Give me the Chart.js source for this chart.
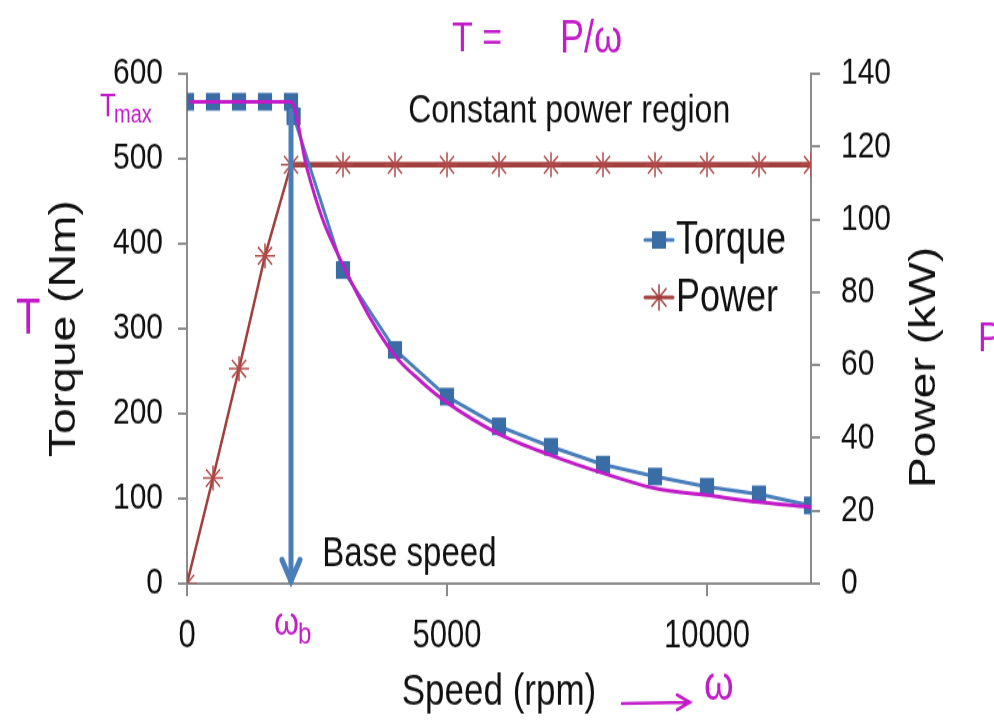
<!DOCTYPE html>
<html>
<head>
<meta charset="utf-8">
<script src="https://cdn.jsdelivr.net/npm/chart.js@4.4.0/dist/chart.umd.min.js"></script>
<style>
  html { margin: 0; padding: 0; background: #fff; overflow: hidden; }
  body { margin: 0; padding: 0; width: 994px; height: 726px; background: #fff; }
  /* the reference picture is a slightly stretched screenshot, so draw flat and stretch */
  #wrap { width: 994px; height: 581px; transform: scaleY(1.2496); transform-origin: 0 0; }
</style>
</head>
<body>
<div id="wrap"><canvas id="chart" width="994" height="581" style="width:994px;height:581px"></canvas></div>
<script>
// x axis ticks (rpm)
const speedTicks = [0, 5000, 10000];

// Torque series (Nm)
const torqueSpeed = [0, 500, 1000, 1500, 2000, 2050, 3000, 4000, 5000, 6000, 7000, 8000, 9000, 10000, 11000, 12000];
const torqueValues = [567, 567, 567, 567, 567, 550, 369, 275, 220, 185, 161, 140, 126, 114, 105, 92];

// Power series (kW)
const powerSpeed = [0, 500, 1000, 1500, 2000, 3000, 4000, 5000, 6000, 7000, 8000, 9000, 10000, 11000, 12000];
const powerValues = [0, 29, 59, 90, 115, 115, 115, 115, 115, 115, 115, 115, 115, 115, 115];

// hand drawn T = P/w curve over the torque line
const penSpeed = [60, 2000, 2300, 2600, 3000, 3500, 4000, 4500, 5000, 6000, 7000, 8000, 9000, 10000, 11000, 12000];
const penValues = [567, 567, 490, 430, 375, 315, 268, 238, 213, 176, 151, 130, 112, 104, 96, 90];

const baseSpeed = 2000;
const arrowTop = 556;

const BLUE = '#4a7ebb';
const BLUE_DARK = '#3a6ca6';
const RED = '#a13f3d';
const PEN = '#c21bc8';
const AXIS = '#8c8c8c';
const FONT = "'Liberation Sans', Arial, sans-serif";

function pts(xs, ys) {
    return xs.map((v, i) => ({ x: v, y: ys[i] }));
}

function drawStar(ctx, x, y, r) {
    ctx.beginPath();
    for (let a = 0; a < 4; a++) {
        const t = a * Math.PI / 4;
        ctx.moveTo(x - r * Math.sin(t), y - r * Math.cos(t));
        ctx.lineTo(x + r * Math.sin(t), y + r * Math.cos(t));
    }
    ctx.stroke();
}

// text, arrow and legend drawn on top of the plot
const annotate = {
    id: 'annotate',
    afterDatasetsDraw(chart) {
        const { ctx, scales: { x, y } } = chart;
        ctx.save();

        // base speed arrow
        const ax = x.getPixelForValue(baseSpeed);
        const top = y.getPixelForValue(arrowTop);
        const bot = y.getPixelForValue(0) - 2;
        ctx.strokeStyle = BLUE;
        ctx.lineWidth = 5;
        ctx.lineCap = 'round';
        ctx.beginPath();
        ctx.moveTo(ax, top);
        ctx.lineTo(ax, bot);
        ctx.stroke();
        ctx.beginPath();
        ctx.moveTo(ax - 9, bot - 17);
        ctx.lineTo(ax, bot);
        ctx.lineTo(ax + 9, bot - 17);
        ctx.stroke();

        // labels in the plot
        ctx.fillStyle = '#111';
        ctx.textBaseline = 'middle';
        ctx.font = '32px ' + FONT;
        ctx.textAlign = 'center';
        ctx.fillText('Constant power region', x.getPixelForValue(7350), y.getPixelForValue(555));
        ctx.textAlign = 'left';
        ctx.font = '33px ' + FONT;
        ctx.fillText('Base speed', x.getPixelForValue(2600), y.getPixelForValue(34));

        // legend
        const lx = 645, ly = [192, 238];
        ctx.lineWidth = 3;
        ctx.strokeStyle = BLUE;
        ctx.beginPath(); ctx.moveTo(lx, ly[0]); ctx.lineTo(lx + 28, ly[0]); ctx.stroke();
        ctx.fillStyle = BLUE_DARK;
        ctx.fillRect(lx + 7, ly[0] - 7, 14, 14);
        ctx.strokeStyle = RED;
        ctx.beginPath(); ctx.moveTo(lx, ly[1]); ctx.lineTo(lx + 28, ly[1]); ctx.stroke();
        ctx.lineWidth = 1.5;
        drawStar(ctx, lx + 14, ly[1], 10);
        ctx.fillStyle = '#111';
        ctx.font = '36px ' + FONT;
        ctx.fillText(chart.data.datasets[1].label, lx + 31, ly[0] + 1);
        ctx.fillText(chart.data.datasets[2].label, lx + 31, ly[1] + 1);

        // right axis title, reading bottom to top
        ctx.save();
        ctx.translate(925, 294);
        ctx.rotate(-Math.PI / 2);
        ctx.textAlign = 'center';
        ctx.font = '37px ' + FONT;
        ctx.fillText('Power (kW)', 0, 0);
        ctx.restore();

        // handwritten notes
        ctx.fillStyle = PEN;
        ctx.strokeStyle = PEN;
        ctx.textAlign = 'left';
        ctx.font = '34px ' + FONT;
        ctx.fillText('T =', 452, 32);
        ctx.font = '36px ' + FONT;
        ctx.fillText('P/\u03c9', 560, 32);
        ctx.font = '26px ' + FONT;
        ctx.fillText('T', 100, 86);
        ctx.font = '20px ' + FONT;
        ctx.fillText('max', 114, 92);
        ctx.font = '40px ' + FONT;
        ctx.fillText('T', 16, 256);
        ctx.font = '34px ' + FONT;
        ctx.fillText('P', 978, 272);
        ctx.font = '32px ' + FONT;
        ctx.fillText('\u03c9', 274, 499);
        ctx.font = '24px ' + FONT;
        ctx.fillText('b', 298, 508);
        ctx.font = '38px ' + FONT;
        ctx.fillText('\u03c9', 704, 550);
        ctx.lineWidth = 2.5;
        ctx.beginPath();
        ctx.moveTo(622, 563);
        ctx.lineTo(690, 562);
        ctx.moveTo(677, 556);
        ctx.lineTo(690, 562);
        ctx.lineTo(677, 568);
        ctx.stroke();

        ctx.restore();
    }
};

Chart.defaults.font.family = FONT;
Chart.defaults.color = '#111';

new Chart(document.getElementById('chart'), {
    type: 'line',
    data: {
        datasets: [
            {
                label: 'pen',
                data: pts(penSpeed, penValues),
                yAxisID: 'y',
                borderColor: PEN,
                borderWidth: 3,
                pointRadius: 0,
                cubicInterpolationMode: 'monotone',
                order: 0
            },
            {
                label: 'Torque',
                data: pts(torqueSpeed, torqueValues),
                yAxisID: 'y',
                borderColor: BLUE,
                borderWidth: 3,
                pointStyle: 'rect',
                pointRadius: 10,
                pointBackgroundColor: BLUE_DARK,
                pointBorderColor: BLUE_DARK,
                pointBorderWidth: 0,
                order: 1
            },
            {
                label: 'Power',
                data: pts(powerSpeed, powerValues),
                yAxisID: 'y1',
                borderColor: RED,
                borderWidth: 2.5,
                // the flat part past base speed is drawn heavier
                segment: {
                    borderWidth: c => (c.p0.parsed.x >= baseSpeed ? 4.5 : 2.5)
                },
                pointStyle: 'star',
                pointRadius: 10,
                pointBorderColor: '#b04a48',
                pointBorderWidth: 1.5,
                order: 2
            }
        ]
    },
    options: {
        responsive: false,
        animation: false,
        layout: { padding: { top: 59, left: 0, right: 0, bottom: 0 } },
        plugins: {
            legend: { display: false },
            tooltip: { enabled: false }
        },
        scales: {
            x: {
                type: 'linear',
                min: 0,
                max: 12000,
                afterFit: s => { s.height = 114; },
                afterBuildTicks: s => { s.ticks = speedTicks.map(v => ({ value: v })); },
                border: { color: AXIS, width: 2 },
                grid: { drawOnChartArea: false, color: AXIS, lineWidth: 2, tickLength: 10 },
                ticks: { font: { size: 31 }, padding: 14, maxRotation: 0, callback: v => String(v) },
                title: { display: true, text: 'Speed (rpm)', font: { size: 35 }, padding: { top: 0, bottom: 6 } }
            },
            y: {
                position: 'left',
                min: 0,
                max: 600,
                afterFit: s => { s.width = 187; },
                border: { color: AXIS, width: 2 },
                grid: { drawOnChartArea: false, color: AXIS, lineWidth: 2, tickLength: 9 },
                ticks: { stepSize: 100, font: { size: 30 }, padding: 15 },
                title: { display: true, text: 'Torque (Nm)', font: { size: 37 }, padding: { top: 43, bottom: 0 } }
            },
            y1: {
                position: 'right',
                min: 0,
                max: 140,
                afterFit: s => { s.width = 183; },
                border: { color: AXIS, width: 2 },
                grid: { drawOnChartArea: false, color: AXIS, lineWidth: 2, tickLength: 9 },
                ticks: { stepSize: 20, font: { size: 30 }, padding: 21 }
            }
        }
    },
    plugins: [annotate]
});
</script>
</body>
</html>
